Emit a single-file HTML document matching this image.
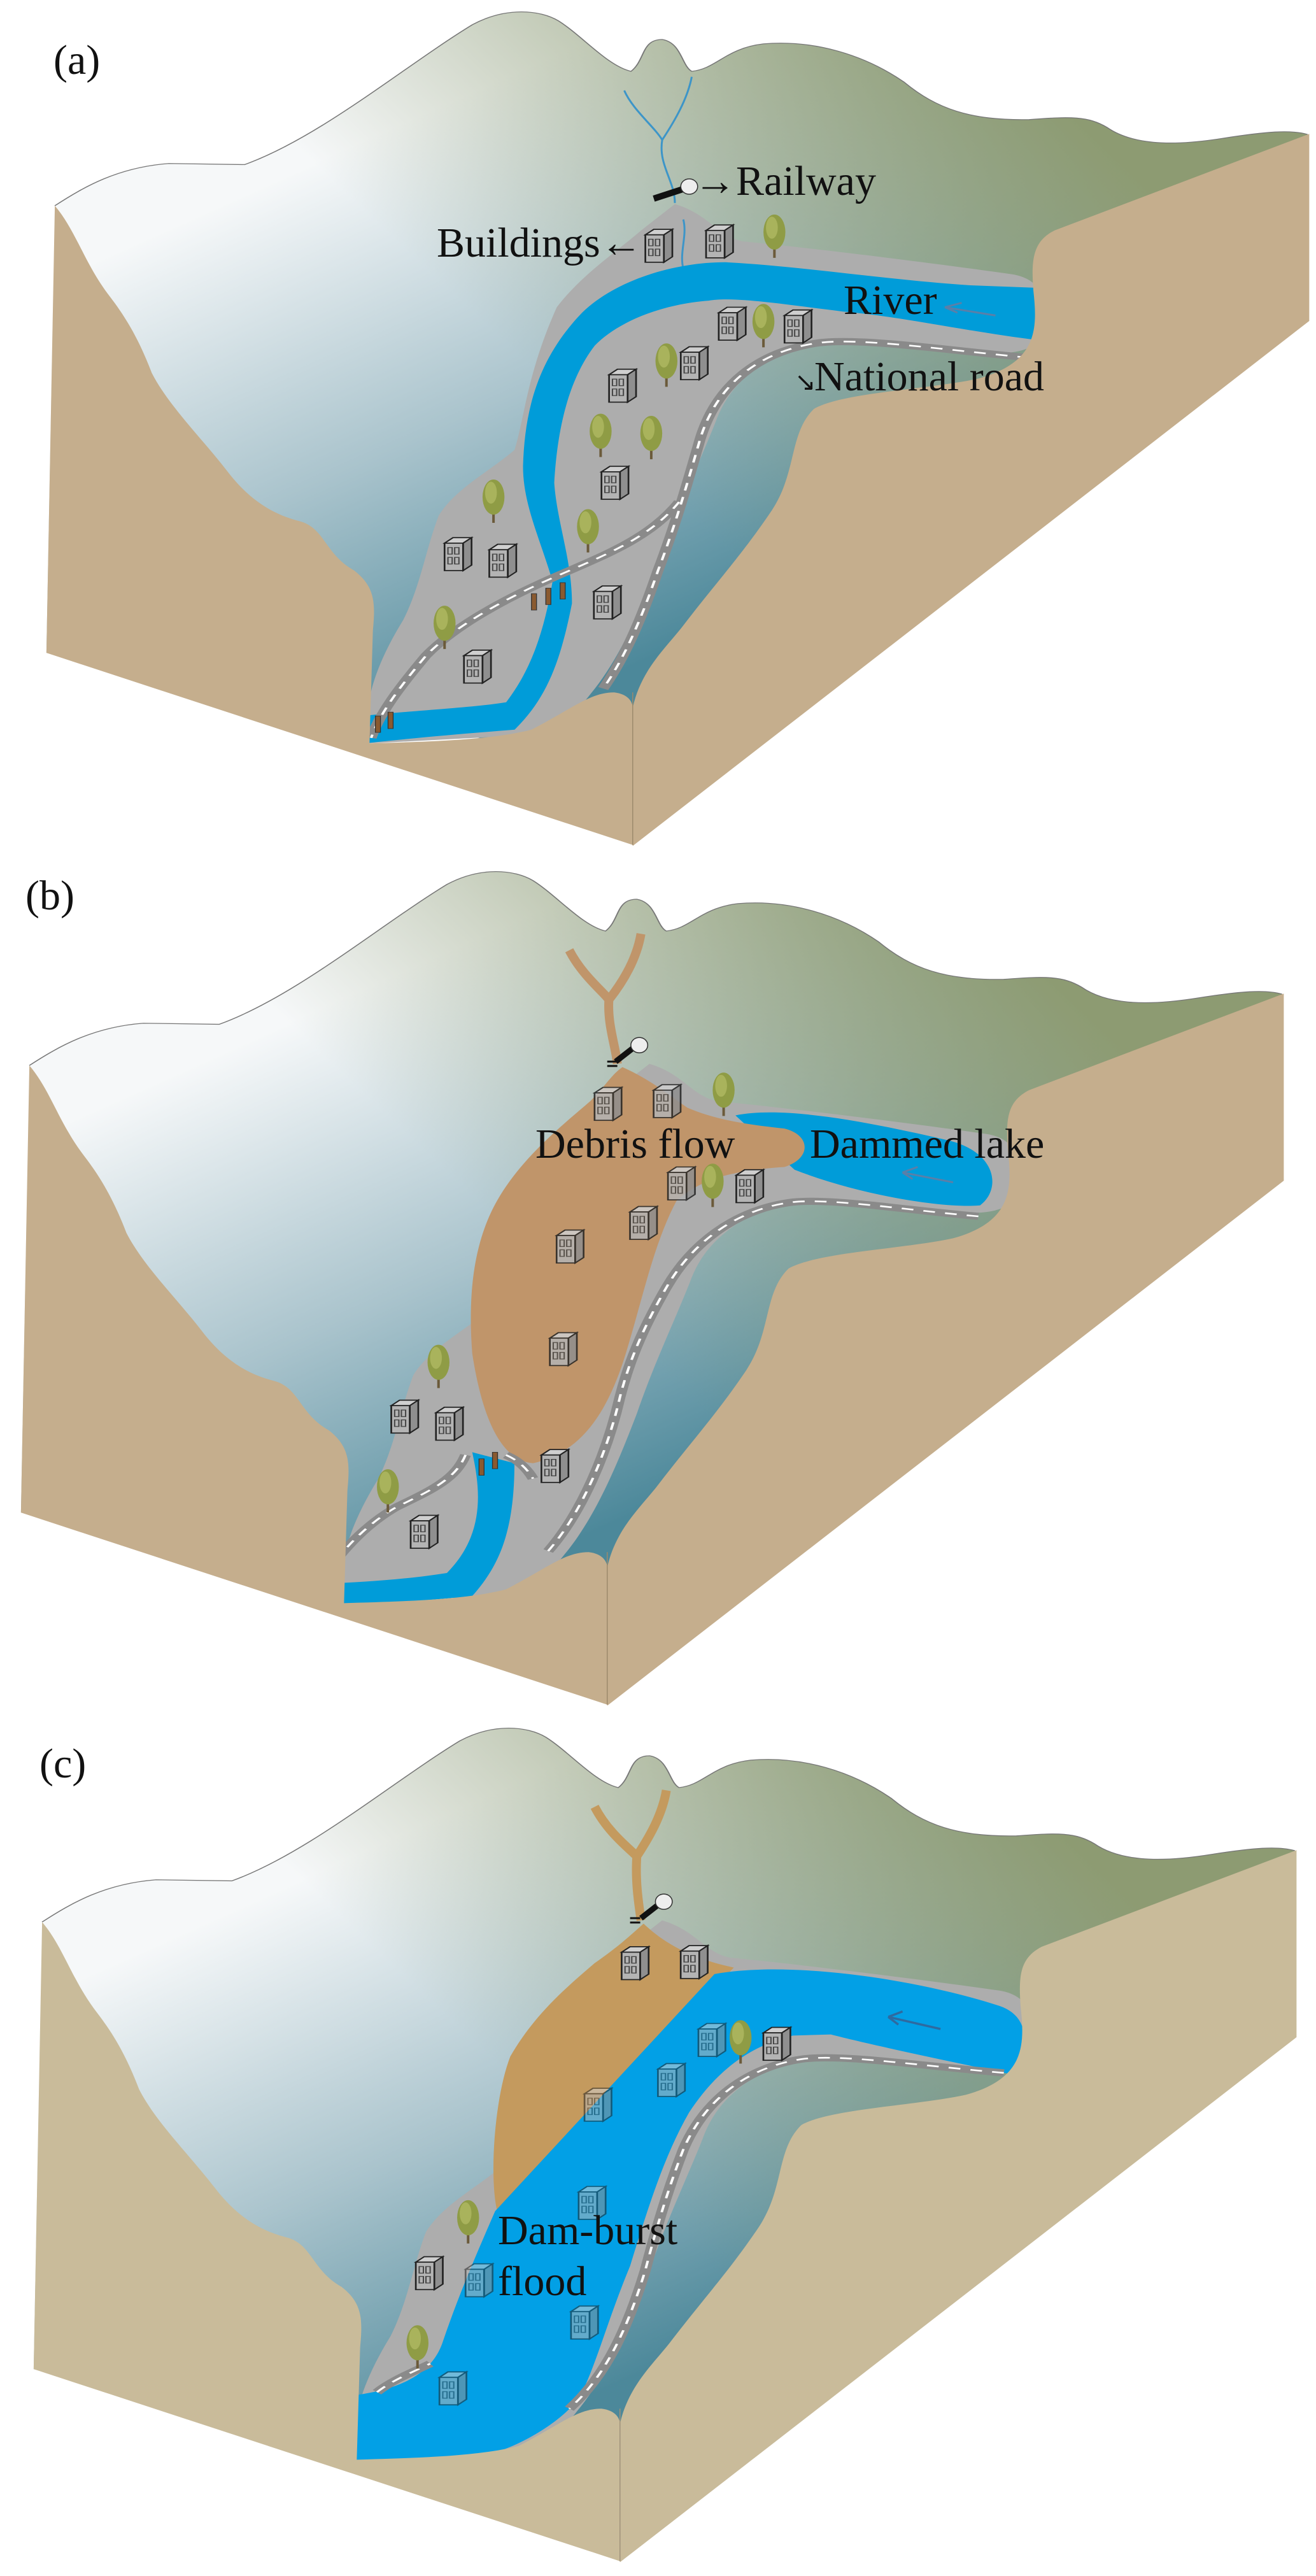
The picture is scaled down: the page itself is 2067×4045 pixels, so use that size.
<!DOCTYPE html>
<html><head><meta charset="utf-8"><style>
html,body{margin:0;padding:0;background:#fff}
svg{display:block}
text{font-family:"Liberation Serif",serif;fill:#111}
</style></head><body>
<svg width="2067" height="4045" viewBox="0 0 2067 4045" xmlns="http://www.w3.org/2000/svg">
<defs>
<linearGradient id="gBase" gradientUnits="userSpaceOnUse" x1="150" y1="450" x2="700" y2="1250">
<stop offset="0" stop-color="#f6f8f9"/><stop offset="0.5" stop-color="#a9c3cc"/><stop offset="1" stop-color="#4c889a"/></linearGradient>
<linearGradient id="gOl" gradientUnits="userSpaceOnUse" x1="650" y1="700" x2="1300" y2="250">
<stop offset="0" stop-color="#8d9b72" stop-opacity="0"/><stop offset="1" stop-color="#8d9b72" stop-opacity="1"/></linearGradient>
<path id="top" d="M65,375 C100,340 140,305 200,298 L290,300 C380,250 480,120 560,45 C600,12 640,18 662,38 C690,65 720,120 748,130 C765,110 760,72 785,72 C808,78 808,120 820,130 C850,125 860,88 905,80 C965,72 1025,100 1072,150 C1110,198 1150,220 1220,218 C1270,212 1290,212 1312,232 C1340,262 1385,268 1450,252 C1500,240 1530,236 1550,245 L1550,575 L750,1400 L55,1190 Z"/>
<path id="topLine" d="M65,375 C100,340 140,305 200,298 L290,300 C380,250 480,120 560,45 C600,12 640,18 662,38 C690,65 720,120 748,130 C765,110 760,72 785,72 C808,78 808,120 820,130 C850,125 860,88 905,80 C965,72 1025,100 1072,150 C1110,198 1150,220 1220,218 C1270,212 1290,212 1312,232 C1340,262 1385,268 1450,252 C1500,240 1530,236 1550,245"/>
<path id="tanL" d="M65,375 C90,420 100,480 130,540 C150,580 165,620 180,680 C200,740 240,800 270,860 C300,920 330,940 355,950 C385,962 385,1010 420,1040 C445,1070 445,1100 442,1150 L438,1355 C500,1352 580,1350 630,1330 C680,1290 700,1262 728,1262 C745,1265 750,1280 750,1290 L750,1540 L55,1190 Z"/>
<path id="tanR" d="M750,1290 C760,1220 790,1180 810,1140 C850,1060 880,1010 915,930 C945,860 935,790 965,745 C1000,715 1100,710 1160,690 C1230,660 1230,600 1225,530 C1222,470 1225,440 1250,420 L1552,244 L1552,585 L750,1542 Z"/>
<path id="gray" d="M800,372 C840,390 850,430 880,440 C950,450 1100,478 1200,500 C1240,510 1242,560 1237,600 C1232,642 1200,648 1150,642 C1060,632 980,615 930,640 C880,680 860,720 848,770 C830,840 805,920 785,1010 C760,1110 735,1200 700,1265 C680,1305 660,1330 630,1335 L600,1342 L438,1355 C430,1300 438,1230 478,1130 C498,1070 505,1000 520,940 C540,890 580,860 610,820 C622,760 625,680 660,560 C690,500 730,460 760,420 Z"/>
<g id="bld">
<path d="M0,10 L10,0 L32,0 L22,10 Z" fill="#cfcfcf" stroke="#222" stroke-width="2"/>
<rect x="0" y="10" width="22" height="50" fill="#b4b4b4" stroke="#222" stroke-width="2"/>
<path d="M22,10 L32,0 L32,50 L22,60 Z" fill="#8f8f8f" stroke="#222" stroke-width="2"/>
<rect x="4" y="18" width="5" height="12" fill="none" stroke="#444" stroke-width="1.5"/><rect x="12" y="18" width="5" height="12" fill="none" stroke="#444" stroke-width="1.5"/>
<rect x="4" y="36" width="5" height="12" fill="none" stroke="#444" stroke-width="1.5"/><rect x="12" y="36" width="5" height="12" fill="none" stroke="#444" stroke-width="1.5"/>
</g>
<g id="tree">
<line x1="0" y1="10" x2="0" y2="85" stroke="#6b5a3a" stroke-width="3"/>
<ellipse cx="0" cy="38" rx="13" ry="32" fill="#8f9c45"/>
<ellipse cx="-3" cy="30" rx="7" ry="20" fill="#a9b35c"/>
</g>
<g id="base">
<use href="#top" fill="url(#gBase)"/>
<use href="#top" fill="url(#gOl)"/>
<use href="#topLine" fill="none" stroke="#777" stroke-width="1.5" vector-effect="non-scaling-stroke"/>
</g>
</defs>

<!-- PANEL A -->
<g transform="translate(0,0) scale(1.325,0.8615)">
<use href="#base"/>
<use href="#gray" fill="#adadad"/>
<path d="M740,165 C750,200 775,230 785,255 M820,140 C815,180 800,220 785,255 C780,300 800,330 800,370 M810,400 C815,430 805,460 810,490" fill="none" stroke="#3d95c8" stroke-width="3" vector-effect="non-scaling-stroke"/>
<path d="M1235,525 L1235,615 L1230,620 C1150,605 1060,575 1000,568 C930,555 870,540 840,548 C780,555 730,590 705,630 C670,700 660,800 657,880 C660,950 678,1020 678,1100 C665,1200 650,1270 610,1330 C560,1336 490,1345 432,1355 L430,1305 C490,1295 560,1290 600,1280 C630,1220 645,1150 655,1060 C640,980 620,920 620,850 C622,740 640,650 690,570 C730,510 800,478 860,478 C950,485 1050,510 1150,520 Z" fill="#009cd9"/>
<g fill="none" stroke="#8a8a8a" stroke-width="13" vector-effect="non-scaling-stroke">
<path id="rdA1" d="M1220,652 C1120,638 1020,615 970,625 C900,640 850,700 830,800 C815,880 800,960 780,1040 C760,1130 740,1200 715,1255"/>
<path id="rdA2" d="M805,915 C770,980 720,1010 660,1050 C600,1090 540,1140 505,1195 C475,1250 450,1300 440,1345"/>
</g>
<g fill="none" stroke="#fff" stroke-width="3" stroke-dasharray="14 12" vector-effect="non-scaling-stroke">
<use href="#rdA1"/><use href="#rdA2"/></g>
<g fill="#8a5a30" stroke="#333" stroke-width="1" vector-effect="non-scaling-stroke">
<rect x="630" y="1082" width="6" height="30"/><rect x="647" y="1072" width="6" height="30"/><rect x="664" y="1062" width="6" height="30"/><rect x="445" y="1305" width="6" height="30"/><rect x="460" y="1298" width="6" height="30"/></g>
<use href="#tree" x="918" y="385"/><use href="#tree" x="905" y="548"/><use href="#tree" x="790" y="620"/><use href="#tree" x="712" y="748"/><use href="#tree" x="772" y="752"/><use href="#tree" x="585" y="868"/><use href="#tree" x="697" y="922"/><use href="#tree" x="527" y="1098"/>
<use href="#bld" x="765" y="418"/><use href="#bld" x="837" y="410"/><use href="#bld" x="852" y="560"/><use href="#bld" x="930" y="565"/><use href="#bld" x="807" y="632"/><use href="#bld" x="722" y="673"/><use href="#bld" x="713" y="850"/><use href="#bld" x="527" y="980"/><use href="#bld" x="580" y="992"/><use href="#bld" x="704" y="1068"/><use href="#bld" x="550" y="1185"/>
<path d="M775,362 L815,342" stroke="#111" stroke-width="10" vector-effect="non-scaling-stroke"/><ellipse cx="817" cy="340" rx="10" ry="14" fill="#eee" stroke="#333" stroke-width="1.5" vector-effect="non-scaling-stroke"/>
<path d="M1180,575 L1120,560 M1120,560 L1140,552 M1120,560 L1135,570" stroke="#5a7fa8" stroke-width="3" fill="none" vector-effect="non-scaling-stroke"/>
<use href="#tanL" fill="#c5ae8d"/><use href="#tanR" fill="#c5ae8d"/>
<path d="M750,1262 L750,1540" stroke="#9c8a6c" stroke-width="1.5" vector-effect="non-scaling-stroke"/>
</g>

<!-- PANEL B -->
<g transform="translate(-40,1350) scale(1.325,0.8615)">
<use href="#base"/>
<use href="#gray" fill="#adadad"/>
<path d="M902,466 C960,448 1060,478 1150,510 C1212,530 1218,600 1192,630 C1150,636 1050,612 972,565 Z" fill="#009cd9"/>
<path d="M590,1080 C600,1150 605,1230 560,1300 C520,1310 460,1318 402,1320 L402,1360 C470,1358 540,1350 590,1342 C620,1290 640,1230 640,1100 Z" fill="#009cd9"/>
<path d="M705,165 C720,210 745,240 752,255 M790,135 C785,180 770,220 752,255 C750,300 760,340 762,372" fill="none" stroke="#c0956a" stroke-width="14" vector-effect="non-scaling-stroke"/>
<path d="M768,378 C800,400 820,425 845,452 C875,472 910,482 960,490 C992,502 992,545 960,560 C900,566 860,582 832,622 C805,700 792,800 772,900 C752,1000 722,1080 662,1100 C620,1095 600,1000 590,900 C585,800 590,700 620,620 C650,540 700,480 730,440 C748,412 755,392 768,378 Z" fill="#c0956a"/>
<g fill="none" stroke="#8a8a8a" stroke-width="13" vector-effect="non-scaling-stroke">
<path id="rdB1" d="M1190,650 C1100,638 1010,615 965,625 C900,640 850,700 820,780 C790,860 775,920 765,980 C750,1080 720,1190 680,1260"/>
<path id="rdB2" d="M582,1085 C570,1130 540,1150 500,1180 C460,1215 420,1280 400,1350"/>
<path id="rdB3" d="M630,1085 C645,1095 655,1110 662,1128"/>
</g>
<g fill="none" stroke="#fff" stroke-width="3" stroke-dasharray="14 12" vector-effect="non-scaling-stroke">
<use href="#rdB1"/><use href="#rdB2"/><use href="#rdB3"/></g>
<g fill="#8a5a30" stroke="#333" stroke-width="1" vector-effect="non-scaling-stroke">
<rect x="598" y="1092" width="6" height="30"/><rect x="614" y="1080" width="6" height="30"/><rect x="412" y="1325" width="6" height="30"/><rect x="427" y="1312" width="6" height="30"/></g>
<use href="#tree" x="888" y="382"/><use href="#tree" x="875" y="548"/><use href="#tree" x="550" y="878"/><use href="#tree" x="490" y="1105"/>
<g opacity="0.85"><use href="#bld" x="735" y="415"/><use href="#bld" x="805" y="410"/><use href="#bld" x="822" y="560"/><use href="#bld" x="777" y="632"/><use href="#bld" x="690" y="675"/><use href="#bld" x="682" y="862"/></g>
<use href="#bld" x="903" y="565"/><use href="#bld" x="494" y="985"/><use href="#bld" x="547" y="998"/><use href="#bld" x="672" y="1075"/><use href="#bld" x="517" y="1195"/>
<path d="M760,368 L785,338" stroke="#111" stroke-width="9" vector-effect="non-scaling-stroke"/><ellipse cx="788" cy="338" rx="10" ry="14" fill="#eee" stroke="#333" stroke-width="1.5" vector-effect="non-scaling-stroke"/>
<path d="M750,368 L762,368 M750,376 L762,376" stroke="#111" stroke-width="3" vector-effect="non-scaling-stroke"/>
<path d="M1160,588 L1100,570 M1100,570 L1118,560 M1100,570 L1112,582" stroke="#5a7fa8" stroke-width="3" fill="none" vector-effect="non-scaling-stroke"/>
<use href="#tanL" fill="#c5ae8d"/><use href="#tanR" fill="#c5ae8d"/>
<path d="M750,1262 L750,1540" stroke="#9c8a6c" stroke-width="1.5" vector-effect="non-scaling-stroke"/>
</g>

<!-- PANEL C -->
<g transform="translate(-20,2695) scale(1.325,0.8615)">
<use href="#base"/>
<use href="#gray" fill="#adadad"/>
<path d="M720,165 C735,210 760,240 770,255 M805,135 C800,180 785,220 770,255 C768,300 772,340 775,372" fill="none" stroke="#c49a5e" stroke-width="14" vector-effect="non-scaling-stroke"/>
<path d="M778,378 C800,410 830,440 885,458 L605,905 C595,850 600,700 620,620 C650,540 690,490 720,450 C748,420 762,400 778,378 Z" fill="#c49a5e"/>
<path d="M862,470 C950,445 1100,478 1200,528 C1242,550 1232,620 1212,652 C1150,632 1050,600 1000,580 L955,582 C900,602 862,652 832,722 C802,802 782,902 762,1002 C735,1102 722,1182 702,1242 C682,1282 642,1322 602,1342 C522,1362 462,1362 418,1362 L412,1242 C452,1235 522,1225 540,1140 C560,1050 580,980 602,902 Z" fill="#02a0e6"/>
<g fill="none" stroke="#8a8a8a" stroke-width="13" vector-effect="non-scaling-stroke">
<path id="rdC1" d="M1205,650 C1100,636 1010,615 965,625 C900,640 850,700 825,790 C805,870 792,940 780,1010 C760,1110 735,1200 690,1262"/>
<path id="rdC2" d="M462,1232 C480,1210 505,1195 525,1180"/>
</g>
<g fill="none" stroke="#fff" stroke-width="3" stroke-dasharray="14 12" vector-effect="non-scaling-stroke">
<use href="#rdC1"/><use href="#rdC2"/></g>
<use href="#tree" x="893" y="548"/><use href="#tree" x="570" y="876"/><use href="#tree" x="510" y="1104"/>
<use href="#bld" x="752" y="420"/><use href="#bld" x="822" y="418"/><use href="#bld" x="920" y="567"/><use href="#bld" x="508" y="985"/>
<g opacity="0.55"><use href="#bld" x="843" y="560"/><use href="#bld" x="795" y="633"/><use href="#bld" x="708" y="678"/><use href="#bld" x="701" y="857"/><use href="#bld" x="567" y="998"/><use href="#bld" x="692" y="1075"/><use href="#bld" x="536" y="1195"/></g>
<path d="M775,368 L800,338" stroke="#111" stroke-width="9" vector-effect="non-scaling-stroke"/><ellipse cx="802" cy="338" rx="10" ry="14" fill="#eee" stroke="#333" stroke-width="1.5" vector-effect="non-scaling-stroke"/>
<path d="M762,368 L774,368 M762,376 L774,376" stroke="#111" stroke-width="3" vector-effect="non-scaling-stroke"/>
<path d="M1130,570 L1068,548 M1068,548 L1085,538 M1068,548 L1080,562" stroke="#2e6aa0" stroke-width="3.5" fill="none" vector-effect="non-scaling-stroke"/>
<use href="#tanL" fill="#c9bb9a"/><use href="#tanR" fill="#c9bb9a"/>
<path d="M750,1262 L750,1540" stroke="#a0927a" stroke-width="1.5" vector-effect="non-scaling-stroke"/>
</g>

<!-- LABELS -->
<g font-size="66">
<text x="84" y="116">(a)</text>
<text x="1090" y="306">→Railway</text>
<text x="686" y="403">Buildings←</text>
<text x="1325" y="493">River</text>
<text x="1248" y="613" font-size="40">↘</text>
<text x="1279" y="613">National road</text>
<text x="40" y="1428">(b)</text>
<text x="841" y="1818">Debris flow</text>
<text x="1272" y="1818">Dammed lake</text>
<text x="62" y="2791">(c)</text>
<text x="782" y="3524">Dam-burst</text>
<text x="782" y="3604">flood</text>
</g>
</svg>
</body></html>
